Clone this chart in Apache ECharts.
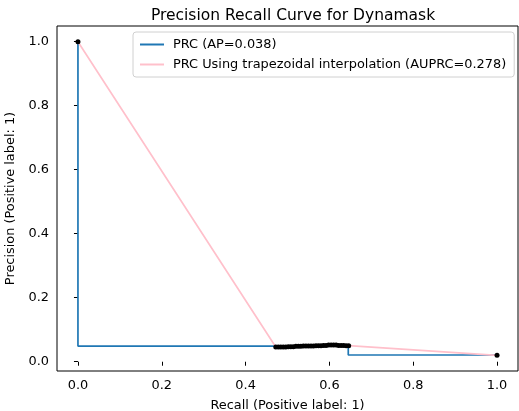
<!DOCTYPE html>
<html>
<head>
<meta charset="utf-8">
<script src="https://cdn.jsdelivr.net/npm/echarts@6/dist/echarts.min.js"></script>
<style>
  html, body { margin: 0; padding: 0; background: #fff; }
  #chart { width: 519px; height: 411px; }
</style>
</head>
<body>
<div id="chart"></div>
<script>
// 数据
var prcRecall = [1.0, 0.645, 0.0];
var prcPrecision = [0.021, 0.049, 1.0];

// 阈值点 (黑色)
var ptRecall = [0.472, 0.478, 0.484, 0.490, 0.496, 0.502, 0.508, 0.514, 0.520, 0.526,
                0.532, 0.538, 0.544, 0.550, 0.556, 0.562, 0.568, 0.574, 0.580, 0.586,
                0.592, 0.598, 0.604, 0.610, 0.616, 0.622, 0.628, 0.634, 0.640, 0.646];
var ptPrecision = [0.046, 0.046, 0.046, 0.046, 0.046, 0.047, 0.047, 0.047, 0.048, 0.048,
                   0.048, 0.049, 0.049, 0.049, 0.049, 0.049, 0.050, 0.050, 0.050, 0.051,
                   0.051, 0.052, 0.052, 0.052, 0.052, 0.051, 0.051, 0.051, 0.050, 0.050];
var endRecall = [0.0, 1.0];
var endPrecision = [1.0, 0.02];

var ticks = [0, 0.2, 0.4, 0.6, 0.8, 1.0];

(function () {
    var myChart = echarts.init(document.getElementById('chart'));
    var font = 'DejaVu Sans';
    var fs = 12.9;

    function pairs(xs, ys) {
        return xs.map(function (x, i) { return [x, ys[i]]; });
    }
    // 梯形插值线: 端点 + 阈值点
    var trapData = [[endRecall[0], endPrecision[0]]]
        .concat(pairs(ptRecall, ptPrecision))
        .concat([[endRecall[1], endPrecision[1]]]);

    var axisCommon = {
        type: 'value',
        nameLocation: 'middle',
        nameTextStyle: { fontFamily: font, fontSize: fs, color: '#000' },
        axisLine: { show: false },
        splitLine: { show: false },
        axisTick: {
            show: true, inside: false, length: 4,
            lineStyle: { color: '#000', width: 1 },
            customValues: ticks
        },
        axisLabel: {
            fontFamily: font, fontSize: fs, color: '#000', margin: 8,
            customValues: ticks,
            formatter: function (v) { return v.toFixed(1); }
        }
    };

    var option = {
        animation: false,
        title: {
            text: 'Precision Recall Curve for Dynamask',
            left: 288, top: 3, textAlign: 'center',
            textStyle: { fontFamily: font, fontSize: 15.5, fontWeight: 'normal', color: '#000' }
        },
        grid: {
            left: 57, right: 1, top: 26, bottom: 40,
            outerBoundsMode: 'none',
            containLabel: false,
            show: true, borderColor: '#000', borderWidth: 1
        },
        legend: {
            orient: 'vertical',
            left: 133, top: 32,
            padding: [5, 8, 5, 7],
            itemGap: 5,
            itemWidth: 24, itemHeight: 2,
            icon: 'rect',
            backgroundColor: '#fff',
            borderColor: '#d0d0d0', borderWidth: 1, borderRadius: 3,
            textStyle: { fontFamily: font, fontSize: fs, color: '#000', padding: [0, 0, 0, 4], lineHeight: 15 },
            data: ['PRC (AP=0.038)', 'PRC Using trapezoidal interpolation (AUPRC=0.278)']
        },
        xAxis: Object.assign({}, axisCommon, {
            min: -0.05, max: 1.05,
            name: 'Recall (Positive label: 1)',
            nameGap: 28
        }),
        yAxis: Object.assign({}, axisCommon, {
            min: -0.029, max: 1.049,
            name: 'Precision (Positive label: 1)',
            nameGap: 35
        }),
        series: [
            {
                name: 'PRC (AP=0.038)',
                type: 'line',
                step: 'end',
                showSymbol: false,
                data: pairs(prcRecall, prcPrecision),
                lineStyle: { color: '#1f77b4', width: 1.7 },
                itemStyle: { color: '#1f77b4' },
                z: 2
            },
            {
                name: 'PRC Using trapezoidal interpolation (AUPRC=0.278)',
                type: 'line',
                showSymbol: false,
                data: trapData,
                lineStyle: { color: '#ffc0cb', width: 1.7 },
                itemStyle: { color: '#ffc0cb' },
                z: 3
            },
            {
                name: 'points',
                type: 'scatter',
                symbolSize: 5,
                data: pairs(ptRecall, ptPrecision).concat(pairs(endRecall, endPrecision)),
                itemStyle: { color: '#000', opacity: 1 },
                z: 4
            }
        ]
    };

    myChart.setOption(option);
    window.addEventListener('resize', function () {
        myChart.resize();
    });
})();
</script>
</body>
</html>
